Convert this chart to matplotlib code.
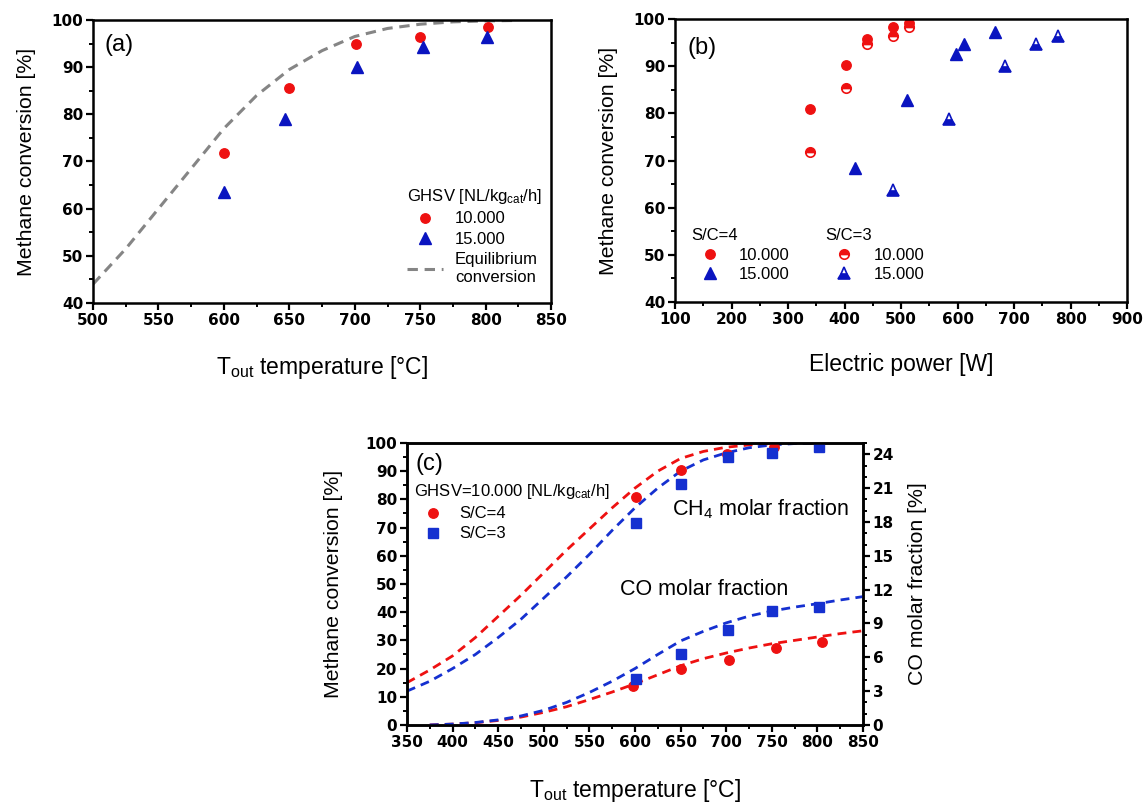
"""Methane conversion panels (a), (b), (c)."""

import matplotlib
matplotlib.use('Agg')
from matplotlib import pyplot as plt
from matplotlib.ticker import MultipleLocator

plt.rcParams['font.family'] = ['Liberation Sans', 'DejaVu Sans']
plt.rcParams['mathtext.fontset'] = 'custom'
plt.rcParams['mathtext.rm'] = 'Liberation Sans'
plt.rcParams['mathtext.it'] = 'Liberation Sans:italic'

RED = '#ee1111'
BLUE = '#0a14c0'
BLUE_C = '#1530d0'
GRAY = '#858585'

# Panel (a): conversion vs outlet temperature
A_T_10 = [600, 650, 701, 750, 802]
A_X_10 = [71.7, 85.5, 94.9, 96.4, 98.6]
A_T_15 = [600, 647, 702, 752, 801]
A_X_15 = [63.6, 79.0, 90.1, 94.3, 96.4]
EQ_T = [500, 525, 550, 575, 600, 625, 650, 675, 700, 725, 750, 775, 800, 825]
EQ_X = [44.0, 51.5, 60.0, 68.5, 77.0, 84.0, 89.5, 93.5, 96.5, 98.2, 99.1, 99.6, 99.8, 99.9]

# Panel (b): conversion vs electric power
B_P_SC4_10 = [339, 402, 440, 485, 514]
B_X_SC4_10 = [80.9, 90.3, 95.8, 98.2, 99.1]
B_P_SC3_10 = [339, 402, 440, 485, 514]
B_X_SC3_10 = [71.7, 85.4, 94.8, 96.3, 98.4]
B_P_SC4_15 = [418, 510, 598, 611, 667]
B_X_SC4_15 = [68.4, 82.9, 92.6, 94.7, 97.3]
B_P_SC3_15 = [486, 585, 684, 739, 778]
B_X_SC3_15 = [63.8, 78.9, 90.1, 94.6, 96.5]

# Panel (c): conversion (left) and CO molar fraction (right)
C_T_SC4 = [601, 651, 701, 753, 802]
C_X_SC4 = [81.0, 90.3, 96.2, 98.6, 98.8]
C_T_SC3 = [601, 650, 702, 750, 802]
C_X_SC3 = [71.8, 85.6, 95.0, 96.5, 98.6]
C_CO_T_SC4 = [598, 650, 703, 755, 805]
C_CO_SC4 = [3.48, 5.0, 5.8, 6.8, 7.4]
C_CO_T_SC3 = [601, 650, 702, 750, 802]
C_CO_SC3 = [4.07, 6.26, 8.4, 10.1, 10.5]

CURVE_T = [350, 375, 400, 425, 450, 475, 500, 525, 550, 575, 600, 625,
           650, 675, 700, 725, 750, 775, 800]
CURVE_X_SC4 = [15, 19.5, 24.5, 31, 38.5, 46, 54, 62, 69.5, 77, 84, 90,
               94.5, 97, 98.5, 99.3, 99.7, 100, 100]
CURVE_X_SC3 = [12, 15.5, 20, 25, 31, 37.5, 45, 52.5, 60.5, 69, 77, 84,
               90, 94, 96.5, 98.3, 99.3, 99.8, 100]
CO_CURVE_T = [375, 400, 425, 450, 475, 500, 525, 550, 575, 600, 625, 650,
              675, 700, 725, 750, 775, 800, 825, 850]
CO_CURVE_SC4 = [0, 0.08, 0.2, 0.4, 0.7, 1.12, 1.62, 2.25, 2.92, 3.65, 4.45,
                5.25, 5.88, 6.38, 6.82, 7.2, 7.5, 7.8, 8.1, 8.35]
CO_CURVE_SC3 = [0, 0.08, 0.22, 0.45, 0.8, 1.3, 2.0, 2.88, 3.88, 5.0, 6.25,
                7.45, 8.3, 9.05, 9.65, 10.1, 10.45, 10.75, 11.08, 11.38]

XLABEL_T = r'T$_{\mathrm{out}}$ temperature [°C]'
YLABEL = 'Methane conversion [%]'

XLAB_SIZE = 16.5
YLAB_SIZE = 15.3
LEG_SIZE = 12


def style_axes(ax, xmajor, xminor, ymajor, yminor, right=False):
    """Thick box, outward ticks on bottom and left, bold tick labels."""
    for sp in ax.spines.values():
        sp.set_linewidth(1.8)
    ax.xaxis.set_major_locator(MultipleLocator(xmajor))
    ax.xaxis.set_minor_locator(MultipleLocator(xminor))
    ax.yaxis.set_major_locator(MultipleLocator(ymajor))
    ax.yaxis.set_minor_locator(MultipleLocator(yminor))
    ax.tick_params(which='major', direction='out', length=5, width=1.6,
                   top=False, right=right, left=not right, pad=2)
    ax.tick_params(which='minor', direction='out', length=3, width=1.4,
                   top=False, right=right, left=not right)
    for lab in ax.get_xticklabels() + ax.get_yticklabels():
        lab.set_family('DejaVu Sans')
        lab.set_fontweight('bold')
        lab.set_fontsize(11)


def _main():
    fig = plt.figure(figsize=(11.46, 8.05), dpi=100)

    # ---- (a)
    ax = fig.add_axes([0.0812, 0.6236, 0.3997, 0.3516])
    ax.plot(EQ_T, EQ_X, ls=(0, (3.4, 2.2)), color=GRAY, lw=2.2,
            label='Equilibrium\nconversion')
    ax.plot(A_T_10, A_X_10, 'o', color=RED, ms=6.8, label='10.000')
    ax.plot(A_T_15, A_X_15, '^', color=BLUE, ms=8, label='15.000')
    ax.set_xlim(500, 850)
    ax.set_ylim(40, 100)
    style_axes(ax, 50, 25, 10, 5)
    ax.set_xlabel(XLABEL_T, fontsize=XLAB_SIZE, labelpad=19)
    ax.set_ylabel(YLABEL, fontsize=YLAB_SIZE, labelpad=11)
    ax.text(0.026, 0.912, '(a)', transform=ax.transAxes, fontsize=17,
            va='center')
    h, l = ax.get_legend_handles_labels()
    ax.legend([h[1], h[2], h[0]], [l[1], l[2], l[0]],
              title=r'GHSV [NL/kg$_{\mathrm{cat}}$/h]',
              loc='upper left', bbox_to_anchor=(0.686, 0.41),
              frameon=False, fontsize=LEG_SIZE, title_fontsize=LEG_SIZE,
              alignment='left', handlelength=2.15, handletextpad=0.7,
              labelspacing=0.33, borderpad=0, borderaxespad=0)

    # ---- (b)
    ax = fig.add_axes([0.589, 0.6248, 0.3945, 0.3516])
    h4a, = ax.plot(B_P_SC4_10, B_X_SC4_10, 'o', color=RED, ms=6.8)
    h3a, = ax.plot(B_P_SC3_10, B_X_SC3_10, 'o', color=RED, ms=6.8,
                   fillstyle='top', markerfacecoloralt='white', mew=1.2)
    h4b, = ax.plot(B_P_SC4_15, B_X_SC4_15, '^', color=BLUE, ms=8)
    h3b, = ax.plot(B_P_SC3_15, B_X_SC3_15, '^', color=BLUE, ms=8,
                   fillstyle='bottom', markerfacecoloralt='white', mew=1.2)
    ax.set_xlim(100, 900)
    ax.set_ylim(40, 100)
    style_axes(ax, 100, 50, 10, 5)
    ax.set_xlabel('Electric power [W]', fontsize=XLAB_SIZE, labelpad=19)
    ax.set_ylabel(YLABEL, fontsize=YLAB_SIZE, labelpad=11)
    ax.text(0.028, 0.897, '(b)', transform=ax.transAxes, fontsize=17,
            va='center')
    kw = dict(frameon=False, fontsize=LEG_SIZE, title_fontsize=LEG_SIZE,
              alignment='left', handlelength=2.3, handletextpad=0.6,
              labelspacing=0.28, borderpad=0, borderaxespad=0,
              loc='upper left')
    leg1 = ax.legend([h4a, h4b], ['10.000', '15.000'], title='S/C=4',
                     bbox_to_anchor=(0.035, 0.262), **kw)
    ax.add_artist(leg1)
    ax.legend([h3a, h3b], ['10.000', '15.000'], title='S/C=3',
              bbox_to_anchor=(0.332, 0.262), **kw)

    # ---- (c)
    ax = fig.add_axes([0.3551, 0.0994, 0.3979, 0.3503])
    ax2 = ax.twinx()
    dash = (0, (3.2, 2.2))
    ax.plot(CURVE_T, CURVE_X_SC4, ls=dash, color=RED, lw=2.0)
    ax.plot(CURVE_T, CURVE_X_SC3, ls=dash, color=BLUE_C, lw=2.0)
    p4, = ax.plot(C_T_SC4, C_X_SC4, 'o', color=RED, ms=6.8, zorder=4)
    p3, = ax.plot(C_T_SC3, C_X_SC3, 's', color=BLUE_C, ms=6.5, zorder=4)
    ax2.plot(CO_CURVE_T, CO_CURVE_SC4, ls=dash, color=RED, lw=2.0)
    ax2.plot(CO_CURVE_T, CO_CURVE_SC3, ls=dash, color=BLUE_C, lw=2.0)
    ax2.plot(C_CO_T_SC4, C_CO_SC4, 'o', color=RED, ms=6.8, zorder=4)
    ax2.plot(C_CO_T_SC3, C_CO_SC3, 's', color=BLUE_C, ms=6.5, zorder=4)
    ax.set_xlim(350, 850)
    ax.set_ylim(0, 100)
    ax2.set_ylim(0, 25)
    style_axes(ax, 50, 25, 10, 5)
    style_axes(ax2, 50, 25, 3, 1, right=True)
    ax.set_xlabel(XLABEL_T, fontsize=XLAB_SIZE, labelpad=20)
    ax.set_ylabel(YLABEL, fontsize=YLAB_SIZE, labelpad=16)
    ax2.set_ylabel('CO molar fraction [%]', fontsize=YLAB_SIZE, labelpad=10)
    ax.text(0.018, 0.926, '(c)', transform=ax.transAxes, fontsize=17,
            va='center')
    ax.text(0.581, 0.766, r'CH$_4$ molar fraction', transform=ax.transAxes,
            fontsize=15.5, va='center')
    ax.text(0.467, 0.479, 'CO molar fraction', transform=ax.transAxes,
            fontsize=15.5, va='center')
    ax2.legend([p4, p3], ['S/C=4', 'S/C=3'],
               title=r'GHSV=10.000 [NL/kg$_{\mathrm{cat}}$/h]',
               loc='upper left', bbox_to_anchor=(0.015, 0.86), frameon=False,
               fontsize=LEG_SIZE, title_fontsize=LEG_SIZE, alignment='left',
               handlelength=2.3, handletextpad=0.4, labelspacing=0.3,
               borderpad=0, borderaxespad=0)

    fig.savefig('out.png', dpi=100)


if __name__ == '__main__':
    _main()
